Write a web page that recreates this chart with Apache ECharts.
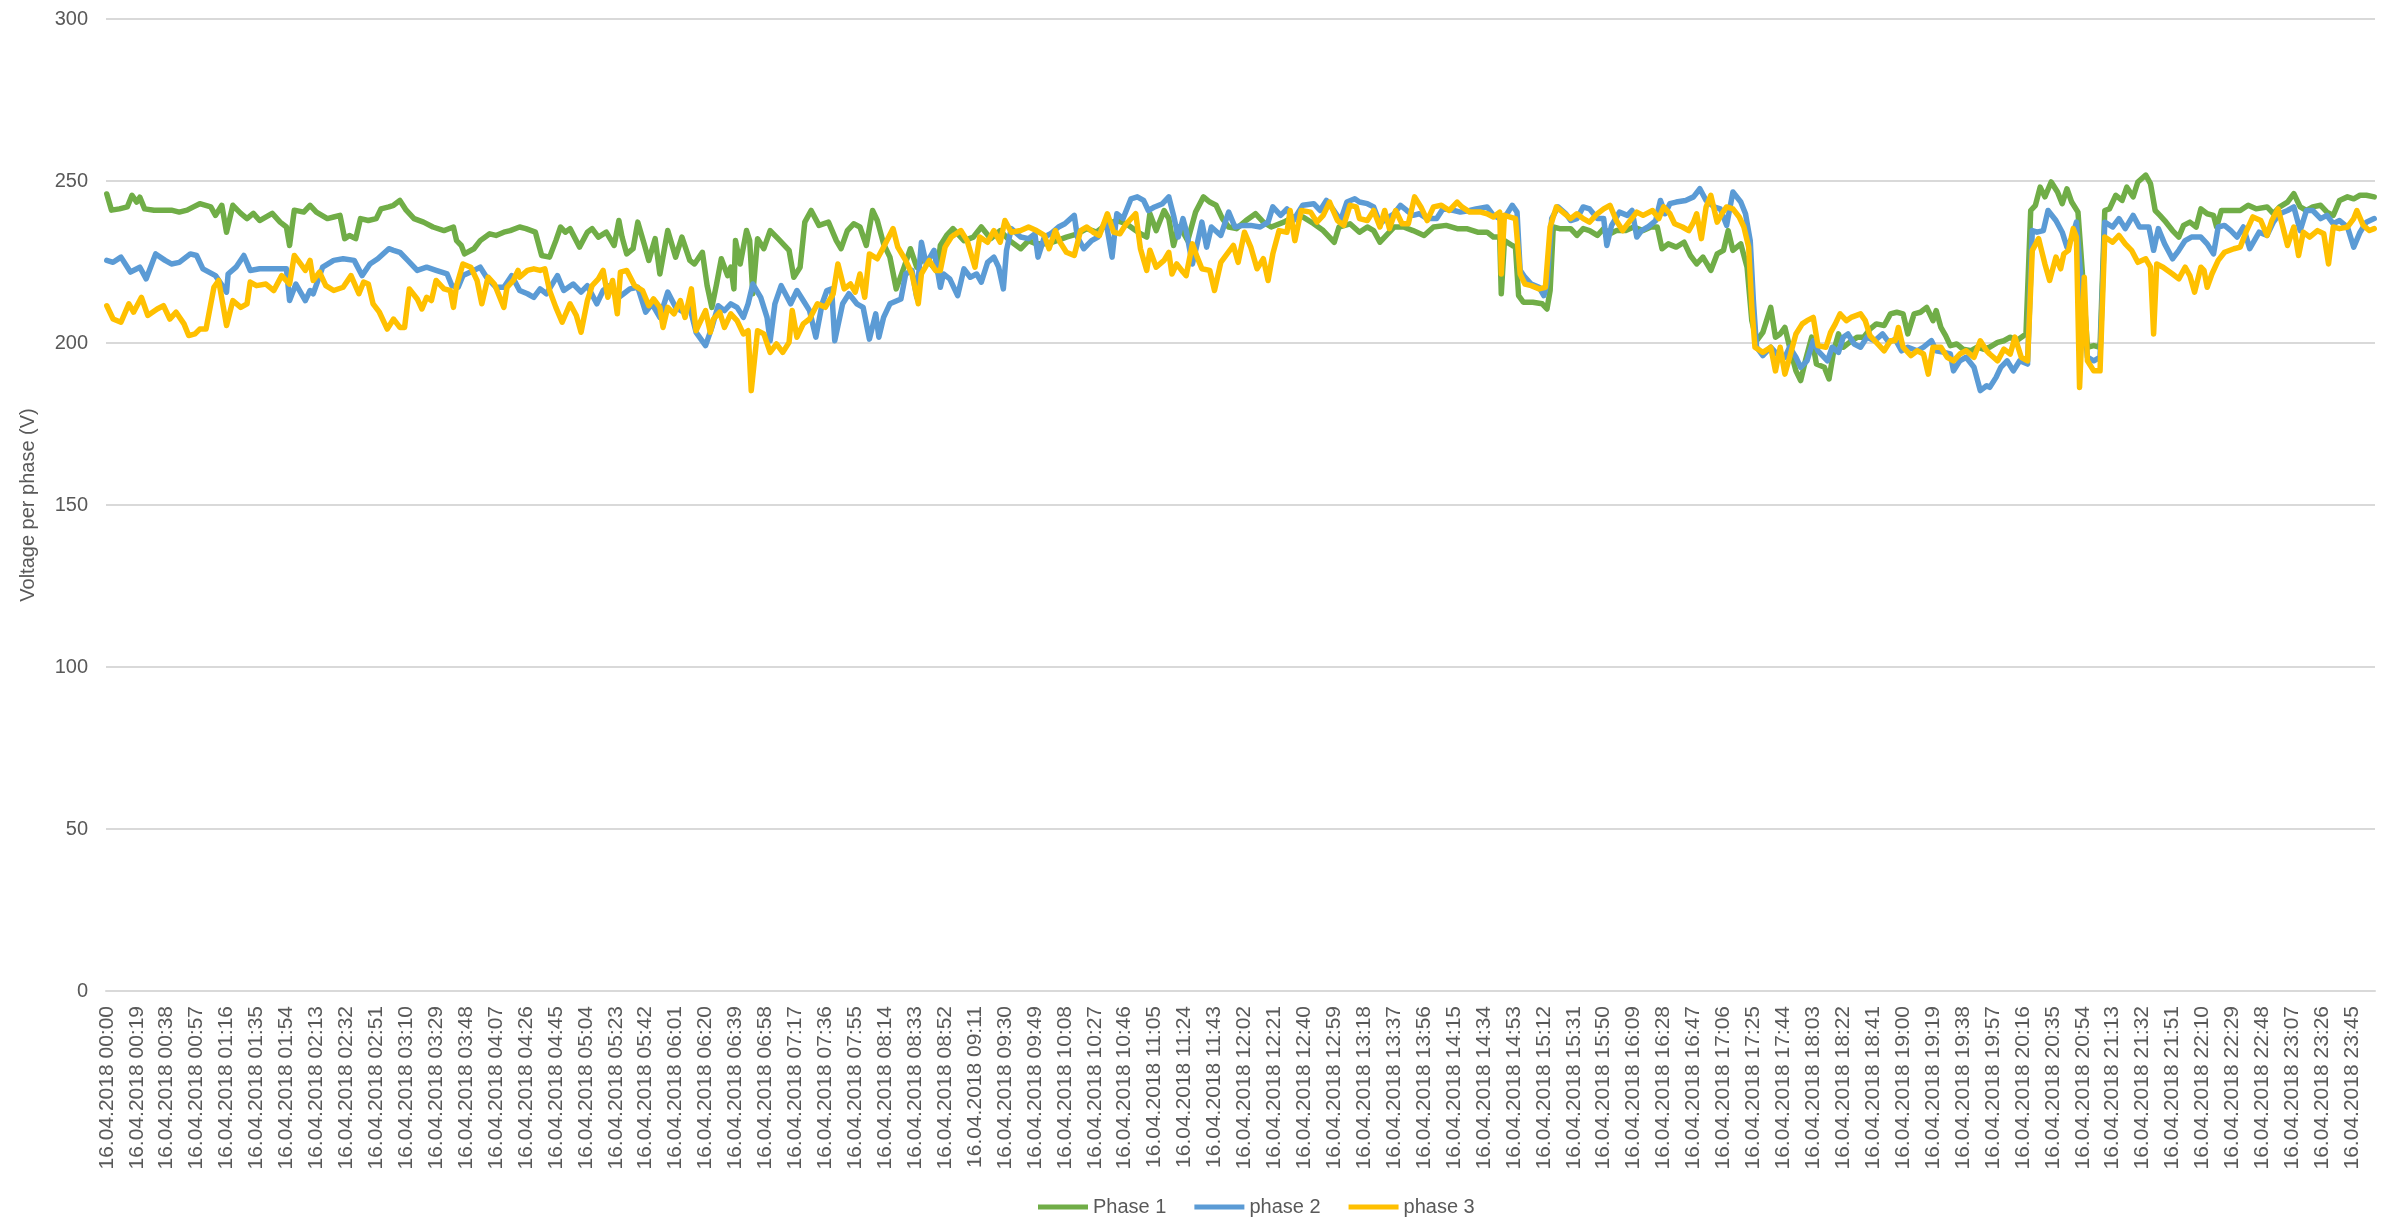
<!DOCTYPE html>
<html>
<head>
<meta charset="utf-8">
<script src="https://cdn.jsdelivr.net/npm/echarts@6/dist/echarts.min.js"></script>
<style>
html,body{margin:0;padding:0;background:#fff;}
#chart{width:2394px;height:1225px;}
</style>
</head>
<body>
<div id="chart"></div>
<script>
// Category labels: one per minute of 16.04.2018
const datePrefix = "16.04.2018";
const minutesInDay = 1440;
const labelEvery = 19;
const seriesNames = ["Phase 1", "phase 2", "phase 3"];
const yTicks = [0, 50, 100, 150, 200, 250, 300];

// [minute index, voltage]
const phase1 = [[0,246],[3,241],[8,241.4],[13,242],[16,245.6],[19,243.5],[21,245],[24,241.4],[30,241],[36,241],[41,241],[46,240.4],[51,241],[55,242],[59,243],[66,242],[69,239.4],[73,242.5],[76,234.2],[80,242.5],[85,240],[89,238.4],[93,240],[97,237.8],[105,240],[110,237.3],[114,235.8],[116,230.1],[119,241],[125,240.4],[129,242.5],
[133,240.4],[140,238.4],[144,238.9],[148,239.4],[151,232.2],[154,233.2],[158,232.2],[161,238.4],[166,237.8],[171,238.4],[174,241.4],[179,242],[182,242.5],[186,244],[190,241],[195,238.4],[201,237.3],[207,235.8],[214,234.7],[220,235.8],[222,231.6],[225,230.1],[227,227.5],[233,229.1],[237,231.6],[243,233.7],[247,233.2],[252,234.2],[256,234.7],[262,235.8],
[266,235.3],[272,234.2],[276,227],[281,226.5],[285,231.6],[288,235.8],[291,234.2],[294,235.3],[300,229.6],[305,234.2],[308,235.3],[312,232.7],[317,234.2],[322,230.1],[325,237.8],[327,232.7],[330,227.5],[334,229.1],[337,237.3],[341,230.6],[344,225.5],[348,232.2],[351,221.3],[356,234.7],[361,226.5],[365,232.7],[370,225.5],[373,224.4],[378,228],[381,217.7],[384,211],[387,218.2],[390,226],[394,220.8],
[396,223.4],[398,216.7],[399,231.6],[402,224.4],[406,234.7],[408,231.6],[410,215.2],[413,232.2],[417,229.1],[421,234.7],[426,232.2],[433,228.6],[436,220.3],[440,223.4],[443,237.3],[447,240.9],[452,236.3],[458,237.3],[463,231.6],[466,229.1],[470,234.7],[474,236.8],[478,235.8],[482,230.1],[486,240.9],[489,237.8],[493,230.6],[497,226.5],[501,216.7],[506,223.4],[510,229.1],[514,223.4],[518,226],[523,224.4],[527,222],
[529,230.1],[533,233.2],[537,235.3],[544,231.6],[550,232.7],[555,235.8],[561,232.2],[567,234.7],[573,231.6],[580,229.1],[585,231.6],[590,230.6],[597,230.6],[603,231.6],[609,232.7],[616,233.7],[622,235.3],[628,234.2],[635,236.8],[641,237.8],[647,236.8],[653,234.7],[656,233.7],[660,232.7],
[662,239.9],[666,234.7],[671,240.9],[674,238.4],[677,230.1],[680,235.8],[683,234.2],[686,231.6],[691,240.4],[696,245.1],[700,243.5],[704,242.5],[708,238.4],[712,235.8],[717,235.3],[723,237.8],[729,239.9],[734,237.3],[739,235.8],[747,237.3],[753,238.9],[759,238.9],[766,236.8],[772,234.7],[779,231.1],[782,235.8],[789,236.8],[795,234.2],
[800,235.8],[804,234.7],[808,231.1],[812,233.2],[817,235.8],[823,235.8],[829,234.7],[836,233.2],[842,235.8],[850,236.3],[857,235.3],[863,235.3],[870,234.2],[876,234.2],[880,232.7],[884,232.7],[885,215.2],[887,231.6],[892,230.1],[894,229.6],[896,214.6],[899,212.6],[905,212.6],[911,212.1],[914,210.5],[916,216.2],[918,235.8],[922,235.3],[929,235.3],
[933,233.2],[937,235.3],[941,234.7],[946,233.2],[950,235.3],[954,233.7],[958,234.7],[964,234.7],[969,235.8],[975,234.7],[980,235.8],[984,235.8],[987,229.1],[991,230.6],[996,229.6],[1001,231.1],[1005,227],[1009,224.4],[1013,226.5],[1018,222.4],[1022,227.5],[1026,228.6],[1029,234.7],[1032,228.6],[1037,230.6],[1041,223.4],[1044,206.9],[1047,200.7],[1051,203.3],[1056,211],[1059,201.8],[1062,202.8],
[1065,204.8],[1068,198.7],[1072,191.4],[1075,188.4],[1078,194.5],[1082,201.8],[1085,193.5],[1090,192.5],[1093,188.9],[1096,197.6],[1099,202.8],[1102,198.7],[1106,200.2],[1111,201.8],[1115,201.8],[1119,204.3],[1123,205.9],[1128,205.4],[1132,209],[1136,209.5],[1140,209],[1143,202.8],[1147,209],[1151,209.5],[1155,211],[1159,206.9],[1161,210],[1164,204.8],[1167,202.3],[1170,199.2],[1174,199.7],[1178,198.1],[1183,197.6],[1187,198.7],[1191,198.1],[1195,198.7],
[1200,200.2],[1204,200.7],[1208,201.8],[1212,200.7],[1218,202.8],[1221,240.9],[1224,242.5],[1227,248.1],[1230,245.1],[1234,249.7],[1238,246.6],[1241,243],[1244,247.6],[1247,243.5],[1251,240.4],[1254,220.3],[1257,198.7],[1261,199.2],[1265,198.7],[1268,240.9],[1271,241.4],[1275,245.6],[1279,244],[1282,248.1],[1286,245.1],[1289,249.7],[1294,251.8],[1297,249.2],[1300,240.9],[1303,239.4],[1306,237.8],[1311,234.7],[1315,232.7],[1318,236.3],[1322,237.3],[1326,235.8],
[1329,241.4],[1333,239.9],[1337,239.4],[1339,235.8],[1342,240.9],[1348,240.9],[1354,240.9],[1359,242.5],[1364,241.4],[1371,242],[1375,239.9],[1379,242],[1384,243.5],[1388,246.1],[1392,242],[1396,240.9],[1400,242],[1405,242.5],[1409,240.4],[1413,239.4],[1417,244],[1422,245.1],[1426,244.5],[1430,245.6],[1434,245.6],[1439,245.1]];

const phase2 = [[0,225.5],[4,224.9],[9,226.5],[15,221.9],[21,223.4],[25,219.8],[31,227.5],[37,225.5],[41,224.4],[46,224.9],[53,227.5],[57,227],[61,222.9],[69,220.8],[76,215.7],[77,221.3],[82,223.4],[87,227],[91,222.4],[97,222.9],[106,222.9],[114,222.9],[116,213.1],[120,218.2],[126,213.1],[129,216.2],
[131,215.2],[137,223.4],[144,225.5],[150,226],[157,225.5],[162,220.8],[167,224.4],[172,226],[179,229.1],[182,228.6],[186,228],[191,225.5],[197,222.4],[203,223.4],[209,222.4],[216,221.3],[219,217.7],[223,217.2],[226,220.8],[233,222.4],[237,223.4],[241,220.3],[247,217.2],[252,217.2],[257,220.8],[262,216.2],
[267,215.2],[271,214.1],[275,216.7],[279,215.2],[286,220.8],[290,216.2],[296,218.2],[301,215.7],[305,217.7],[311,212.1],[315,216.2],[319,217.7],[325,214.1],[328,215.2],[332,216.7],[337,217.2],[342,209.5],[346,212.1],[351,207.9],[356,215.7],[361,211],[366,209.5],[370,211],[374,203.3],[380,199.2],[384,204.8],[388,211.5],[392,210],[396,212.1],
[400,211],[404,207.9],[407,212.1],[410,218.2],[415,214.1],[419,207.9],[421,200.7],[424,212.1],[428,217.7],[434,212.1],[438,216.2],[442,213.1],[446,210],[450,201.8],[454,212.1],[457,216.2],[460,216.7],[462,200.7],[467,212.1],[471,215.2],[476,212.1],[480,211],[484,201.2],[488,209],[490,201.8],[493,207.9],[497,212.1],[504,213.6],[507,221.3],[511,222.4],[514,214.1],[517,231.1],[520,224.4],[525,228.6],[529,217.2],
[531,221.3],[535,219.8],[540,214.6],[544,222.9],[548,220.3],[552,221.3],[555,218.8],[559,224.9],[563,226.5],[566,223.4],[569,216.7],[571,228.6],[574,235.3],[580,232.7],[585,232.2],[589,233.7],[591,226.5],[595,232.7],[599,233.7],[604,235.8],[608,236.8],[614,239.4],[616,232.7],[620,229.1],[625,231.6],[629,232.7],[634,237.8],[638,226.5],[641,239.9],[645,238.4],[650,244.5],[654,245.1],[658,244],[661,240.9],
[665,242],[670,243],[674,245.1],[677,239.4],[680,232.7],[683,238.4],[685,234.7],[689,224.4],[692,230.6],[695,237.3],[698,229.6],[701,235.8],[707,233.2],[712,240.4],[716,235.8],[721,236.3],[726,236.3],[732,235.8],[737,237.3],[740,242],[745,239.4],[749,241.4],[753,237.8],[759,242.5],[766,243],[770,240.9],[774,244],[778,241.4],[783,237.8],[787,243.5],[792,244.5],
[795,243.5],[800,243],[804,242],[808,236.8],[812,238.4],[817,239.9],[821,242.5],[825,240.9],[829,239.4],[833,239.9],[838,238.4],[844,238.4],[848,241.4],[855,240.9],[859,240.4],[865,240.9],[869,241.4],[876,242],[880,239.4],[884,238.4],[888,239.4],[892,242.5],[895,240.4],[897,222.4],[900,220.3],[904,218.2],[909,217.2],[912,214.6],[914,218.2],[917,238.4],[921,242],[926,239.9],
[929,237.8],[933,238.4],[937,242],[941,241.4],[946,238.4],[950,238.4],[952,230.1],[955,236.3],[960,240.4],[965,239.4],[968,240.9],[971,232.7],[974,234.7],[978,235.8],[983,237.8],[986,244],[989,239.9],[992,243],[996,243.5],[1002,244],[1007,245.1],[1011,247.6],[1015,244],[1020,242],[1024,241.4],[1028,236.3],[1032,246.6],[1037,243.5],[1040,239.9],[1043,231.6],[1045,213.1],[1047,198.7],[1051,196.1],[1056,198.7],[1060,196.6],
[1065,195.6],[1068,198.7],[1072,195.6],[1075,192.5],[1079,194.5],[1083,200.7],[1086,197.6],[1092,194.5],[1095,198.7],[1099,197.1],[1102,201.8],[1105,202.8],[1109,199.7],[1113,198.7],[1117,201.8],[1122,200.7],[1127,202.8],[1131,200.2],[1135,201.2],[1139,197.6],[1143,198.7],[1149,197.6],[1153,198.7],[1158,200.7],[1161,197.6],[1166,197.1],[1170,196.6],[1172,191.4],[1176,194.5],[1180,195.6],[1185,192.5],[1189,185.3],[1193,186.8],
[1195,186.3],[1199,189.4],[1202,192.5],[1206,194.5],[1210,191.4],[1214,194.5],[1219,193.5],[1222,234.7],[1225,234.2],[1229,234.7],[1232,240.9],[1237,237.8],[1241,234.2],[1244,229.6],[1247,232.2],[1250,237.3],[1254,213.1],[1257,195.6],[1261,194.5],[1265,195.6],[1268,237.3],[1273,235.8],[1277,238.4],[1281,235.3],[1286,239.4],[1290,235.8],[1296,235.8],[1299,228.6],[1302,235.3],[1306,230.6],[1311,226],[1315,228.6],[1319,231.6],[1323,232.7],[1329,232.7],
[1333,230.6],[1337,227.5],[1340,235.8],[1344,236.3],[1348,234.7],[1352,232.7],[1356,235.8],[1360,229.1],[1366,234.2],[1371,233.2],[1375,237.3],[1379,239.9],[1384,240.9],[1388,242],[1392,234.7],[1396,240.9],[1400,240.9],[1405,238.4],[1409,239.4],[1413,236.8],[1417,237.8],[1422,235.8],[1426,229.6],[1430,234.2],[1434,237.3],[1439,238.4]];

const phase3 = [[0,211.5],[4,207.4],[9,206.4],[14,212.1],[17,209.5],[22,214.1],[26,208.5],[32,210.5],[36,211.5],[40,207.4],[44,209.5],[49,205.9],[52,202.3],[56,202.8],[59,204.3],[63,204.3],[68,217.2],[71,219.3],[76,205.4],[80,213.1],[85,211],[89,212.1],[91,218.8],[95,217.7],[101,218.2],[106,216.2],[111,220.8],[116,218.2],[119,227],[123,224.4],[126,222.4],
[129,225.5],[131,219.3],[135,221.9],[139,217.7],[144,216.2],[150,217.2],[155,220.8],[160,215.2],[163,218.8],[166,218.2],[169,212.1],[173,209.5],[178,204.3],[182,207.4],[186,204.8],[189,204.8],[192,216.7],[197,213.6],[200,210.5],[203,214.1],[206,213.1],[209,219.3],[214,216.7],[218,216.2],[220,211],[222,217.7],[226,224.4],[231,223.4],[235,219.3],[238,212.1],[242,220.3],[246,218.2],[252,211],[254,217.2],[258,219.3],[261,222.4],
[262,220.3],[267,222.4],[271,222.9],[275,222.4],[278,222.9],[281,216.2],[285,211],[289,206.4],[294,212.1],[298,208.5],[301,203.3],[305,213.1],[308,217.7],[312,219.8],[315,222.4],[318,214.1],[321,219.3],[324,209],[326,221.9],[330,222.4],[335,217.7],[340,216.2],[344,211.5],[347,213.6],[351,211],[353,204.8],[356,211],[360,209],[364,213.1],[367,207.9],[371,216.7],[374,203.8],[380,210],[383,203.3],[385,207.4],[389,209.5],[392,204.8],[396,209],
[400,206.9],[404,202.8],[407,203.8],[409,185.3],[413,203.8],[417,202.8],[421,197.1],[425,199.7],[429,197.1],[433,200.2],[435,210],[438,201.8],[442,205.9],[446,207.4],[451,212.1],[456,211],[461,215.2],[464,224.4],[468,216.7],[472,218.2],[475,215.7],[478,221.3],[481,214.1],[484,227.5],[489,226],[493,229.6],[499,235.3],[502,229.6],[507,225.5],[511,221.3],[515,212.1],[517,221.3],[522,225.5],[526,222.4],
[529,222.4],[532,229.6],[536,232.7],[542,234.7],[546,231.6],[551,223.4],[554,232.7],[559,231.1],[563,234.7],[567,231.1],[570,237.8],[574,234.2],[580,234.7],[585,235.8],[590,234.7],[595,233.2],[598,229.1],[602,234.7],[605,231.1],[609,228],[614,227],[618,234.7],[622,235.8],[626,234.2],[630,233.2],[635,239.9],[639,234.2],[643,233.7],[647,236.8],[653,239.9],[656,229.1],[660,222.4],
[662,228.6],[666,223.4],[671,225.5],[674,228],[676,221.3],[679,224.4],[683,221.9],[685,220.8],[689,230.6],[692,226.5],[695,222.9],[700,222.4],[703,216.2],[707,224.9],[711,227.5],[715,230.1],[718,224.9],[722,234.2],[726,229.6],[730,222.9],[734,226],[737,219.3],[740,227.5],[744,234.7],[749,234.2],[751,240.9],[754,231.6],[758,240.9],[764,240.4],[768,237.3],[772,239.4],[776,243.5],[781,237.8],[785,236.3],[789,242.5],[793,242],
[795,238.4],[800,237.8],[804,240.9],[808,235.8],[811,240.9],[814,235.3],[818,240.9],[822,236.8],[826,236.8],[830,245.1],[834,242],[838,237.8],[842,242],[847,242.5],[852,240.9],[857,243.5],[860,242],[865,240.4],[872,240.4],[876,239.9],[880,238.9],[884,240.4],[885,221.3],[887,239.4],[894,238.4],[897,221.3],[900,218.2],[904,217.7],[909,216.7],[913,217.2],[916,235.8],[920,242],[924,240.4],
[929,238.4],[933,239.9],[937,238.4],[941,237.3],[946,239.9],[950,241.4],[954,242.5],[958,237.8],[962,234.7],[966,237.3],[971,240.4],[975,239.4],[981,240.9],[985,238.4],[988,242],[992,239.9],[995,236.8],[1000,235.8],[1004,234.7],[1007,237.3],[1009,239.9],[1012,232.2],[1015,242],[1018,245.6],[1022,237.3],[1025,239.9],[1028,242],[1032,241.4],[1036,238.9],[1039,235.8],[1042,229.6],[1044,211],[1046,198.7],[1051,197.1],[1056,198.7],[1059,191.4],[1062,198.7],
[1065,190.4],[1068,195.6],[1072,202.8],[1076,205.9],[1079,206.9],[1083,207.9],[1086,199.2],[1091,198.7],[1094,203.3],[1097,205.9],[1100,209],[1104,206.9],[1107,207.9],[1113,209],[1116,206.9],[1119,202.3],[1123,200.2],[1128,197.6],[1132,200.7],[1135,200.7],[1137,204.8],[1140,198.7],[1145,196.1],[1149,197.6],[1153,196.6],[1156,190.4],[1159,198.7],[1164,198.7],[1168,195.6],[1172,194.5],[1176,196.6],[1180,197.6],[1185,195.6],[1189,200.7],[1193,197.6],
[1195,196.6],[1200,194.5],[1204,198.1],[1208,196.6],[1211,201.8],[1215,195.6],[1219,194.5],[1222,228.6],[1226,232.2],[1230,224.4],[1233,219.3],[1237,226.5],[1240,222.9],[1242,227.5],[1245,228.6],[1248,235.3],[1250,232.7],[1252,186.3],[1255,220.3],[1257,194.5],[1261,191.4],[1265,191.4],[1268,232.7],[1273,231.1],[1277,233.2],[1281,230.6],[1285,228.6],[1289,224.9],[1294,226],[1297,223.4],[1299,202.8],[1301,224.4],[1305,223.4],[1311,221.3],[1315,219.8],[1319,223.4],[1322,220.8],[1325,215.7],[1329,223.4],
[1331,222.4],[1333,217.2],[1336,221.3],[1340,225.5],[1344,228],[1350,229.1],[1354,229.6],[1358,234.7],[1362,238.9],[1367,237.8],[1371,233.2],[1374,237.8],[1378,241.4],[1381,235.8],[1384,230.1],[1388,235.8],[1391,227],[1394,234.2],[1398,232.7],[1403,234.7],[1407,233.7],[1410,224.4],[1413,235.8],[1417,235.3],[1422,235.8],[1426,238.4],[1428,240.9],[1432,236.3],[1436,234.7],[1439,235.3]];

// build category labels
function pad(n){ return (n < 10 ? "0" : "") + n; }
const categories = [];
for (let m = 0; m < minutesInDay; m++) {
  categories.push(datePrefix + " " + pad(Math.floor(m / 60)) + ":" + pad(m % 60));
}

const colors = ["#70AD47", "#5B9BD5", "#FFC000"];
const font = "'Liberation Sans', Arial, sans-serif";
const textColor = "#595959";

const chart = echarts.init(document.getElementById("chart"), null, {renderer: "canvas"});
const dataSets = [phase1, phase2, phase3];
chart.setOption({
  animation: false,
  color: colors,
  grid: {left: 106, right: 19, top: 19, bottom: 234, containLabel: false},
  legend: {
    bottom: 3,
    left: 1033,
    icon: "rect",
    itemWidth: 50,
    itemHeight: 5,
    itemGap: 28,
    textStyle: {fontFamily: font, fontSize: 20, color: textColor},
    data: seriesNames
  },
  xAxis: {
    type: "category",
    data: categories,
    boundaryGap: true,
    axisLine: {show: true, lineStyle: {color: "#D9D9D9", width: 2}},
    axisTick: {show: false},
    axisLabel: {
      interval: labelEvery - 1,
      rotate: 90,
      margin: 15,
      fontFamily: font,
      fontSize: 21,
      color: textColor
    },
    splitLine: {show: false}
  },
  yAxis: {
    type: "value",
    min: yTicks[0],
    max: yTicks[yTicks.length - 1],
    interval: 50,
    name: "Voltage per phase (V)",
    nameLocation: "middle",
    nameGap: 68,
    nameTextStyle: {fontFamily: font, fontSize: 20, color: textColor},
    axisLine: {show: false},
    axisTick: {show: false},
    axisLabel: {margin: 18, fontFamily: font, fontSize: 20, color: textColor},
    splitLine: {lineStyle: {color: "#D9D9D9", width: 2}}
  },
  series: seriesNames.map((name, i) => ({
    name: name,
    type: "line",
    data: dataSets[i],
    showSymbol: false,
    symbol: "none",
    lineStyle: {width: 5.5, color: colors[i], join: "round", cap: "round"},
    itemStyle: {color: colors[i]},
    z: 2 + i
  }))
});
</script>
</body>
</html>
